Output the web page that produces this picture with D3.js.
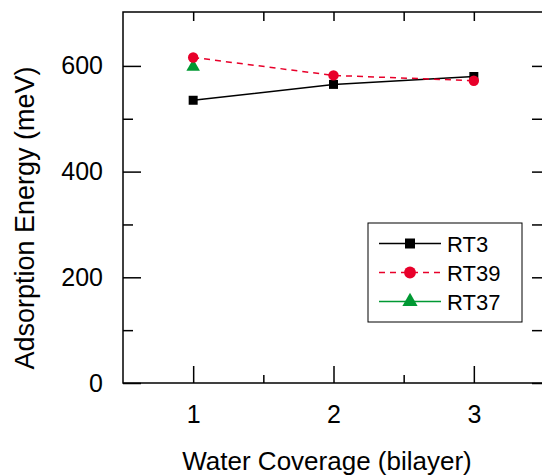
<!DOCTYPE html>
<html>
<head>
<meta charset="utf-8">
<script src="https://cdn.jsdelivr.net/npm/d3@7"></script>
<style>
  body { margin: 0; background: #fff; }
  text { font-family: "Liberation Sans", Arial, sans-serif; }
</style>
</head>
<body>
<script>
// data
const coverage = [1, 2, 3];
const rt3 = [535, 565, 580];
const rt39 = [616, 582, 572];
const rt37 = [600];
const xTicks = [1, 2, 3];
const yTicks = [0, 200, 400, 600];

const width = 542, height = 476;
const margin = { top: 12, right: -2, bottom: 93, left: 123 };

const svg = d3.select("body").append("svg")
    .attr("width", width)
    .attr("height", height);

const x = d3.scaleLinear().domain([0.5, 3.5]).range([margin.left, width - margin.right]);
const y = d3.scaleLinear().domain([0, 702]).range([height - margin.bottom, margin.top]);

const x0 = x.range()[0], x1 = x.range()[1], y0 = y.range()[0], y1 = y.range()[1];

// frame
svg.append("rect")
    .attr("x", x0).attr("y", y1)
    .attr("width", x1 - x0).attr("height", y0 - y1)
    .attr("fill", "none").attr("stroke", "#000").attr("stroke-width", 1.5);

// axes (ticks inside)
const axBottom = svg.append("g").attr("transform", `translate(0,${y0})`)
    .call(d3.axisBottom(x).tickValues(xTicks).tickFormat(d3.format("d")).tickSize(-17).tickPadding(22));
const axBottomMinor = svg.append("g").attr("transform", `translate(0,${y0})`)
    .call(d3.axisBottom(x).tickValues([1.5, 2.5]).tickFormat("").tickSize(-8));
const axTop = svg.append("g").attr("transform", `translate(0,${y1})`)
    .call(d3.axisTop(x).tickValues([1, 1.5, 2, 2.5, 3]).tickFormat("").tickSize(-9));

const axLeft = svg.append("g").attr("transform", `translate(${x0},0)`)
    .call(d3.axisLeft(y).tickValues(yTicks).tickSize(-18).tickPadding(20));
const axLeftMinor = svg.append("g").attr("transform", `translate(${x0},0)`)
    .call(d3.axisLeft(y).tickValues([100, 300, 500]).tickFormat("").tickSize(-10));
const axRight = svg.append("g").attr("transform", `translate(${x1},0)`)
    .call(d3.axisRight(y).tickValues([0, 100, 200, 300, 400, 500, 600]).tickFormat("").tickSize(-12));

[axBottom, axBottomMinor, axTop, axLeft, axLeftMinor, axRight].forEach(g => {
    g.select(".domain").remove();
    g.attr("font-size", 25).attr("font-family", "Liberation Sans, Arial, sans-serif");
    g.selectAll(".tick line").attr("stroke", "#000").attr("stroke-width", 1.5);
    g.selectAll(".tick text").attr("fill", "#000");
});

// axis titles
svg.append("text")
    .attr("x", 327).attr("y", 470)
    .attr("text-anchor", "middle")
    .style("font-size", "26px")
    .text("Water Coverage (bilayer)");

svg.append("text")
    .attr("transform", `translate(34,218) rotate(-90)`)
    .attr("text-anchor", "middle")
    .style("font-size", "27px")
    .text("Adsorption Energy (meV)");

// series
const line = d3.line().x((d, i) => x(coverage[i])).y(d => y(d));

svg.append("path").datum(rt3)
    .attr("d", line).attr("fill", "none").attr("stroke", "#000").attr("stroke-width", 1.5);
svg.append("path").datum(rt39)
    .attr("d", line).attr("fill", "none").attr("stroke", "#e8002a").attr("stroke-width", 1.5)
    .attr("stroke-dasharray", "6,5");

const sq = d3.symbol().type(d3.symbolSquare).size(81);
const ci = d3.symbol().type(d3.symbolCircle).size(85);
const tr = d3.symbol().type(d3.symbolTriangle).size(80);

svg.selectAll(".m3").data(rt3).join("path")
    .attr("transform", (d, i) => `translate(${x(coverage[i])},${y(d)})`)
    .attr("d", sq).attr("fill", "#000");
svg.selectAll(".m37").data(rt37).join("path")
    .attr("transform", (d, i) => `translate(${x(coverage[i])},${y(d) + 1})`)
    .attr("d", tr).attr("fill", "#009933");
svg.selectAll(".m39").data(rt39).join("path")
    .attr("transform", (d, i) => `translate(${x(coverage[i])},${y(d)})`)
    .attr("d", ci).attr("fill", "#e8002a");

// legend (symbols drawn a bit bigger than in the plot)
const legendItems = [
    { name: "RT3", color: "#000", dash: null, sym: d3.symbol().type(d3.symbolSquare).size(100) },
    { name: "RT39", color: "#e8002a", dash: "6,5", sym: d3.symbol().type(d3.symbolCircle).size(110) },
    { name: "RT37", color: "#009933", dash: null, sym: d3.symbol().type(d3.symbolTriangle).size(100) }
];
const lg = svg.append("g").attr("transform", "translate(368,223)");
lg.append("rect").attr("width", 154).attr("height", 99)
    .attr("fill", "#fff").attr("stroke", "#000").attr("stroke-width", 1);
legendItems.forEach((d, i) => {
    const yy = 20.5 + i * 29;
    lg.append("line").attr("x1", 11).attr("x2", 73).attr("y1", yy).attr("y2", yy)
        .attr("stroke", d.color).attr("stroke-width", 1.5)
        .attr("stroke-dasharray", d.dash);
    lg.append("path").attr("transform", `translate(42,${yy})`).attr("d", d.sym).attr("fill", d.color);
    lg.append("text").attr("x", 79).attr("y", yy + 8)
        .style("font-size", "22px").text(d.name);
});
</script>
</body>
</html>
